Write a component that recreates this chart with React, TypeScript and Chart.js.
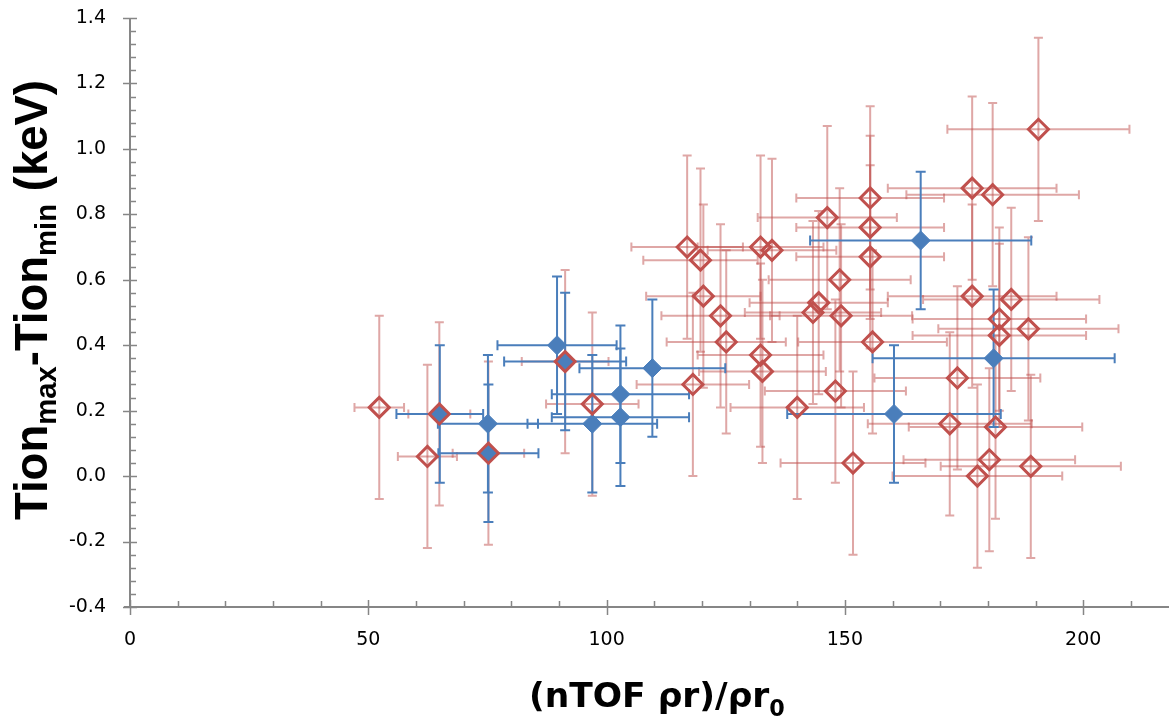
import { useEffect, useRef } from "react";
import { Chart, registerables } from "chart.js";

Chart.register(...registerables);

// Red open diamonds (series 2)
const redX = [52.3, 62.4, 64.9, 75.2, 91.3, 97.0, 116.9, 118.1, 119.7, 120.3, 123.9, 125.1, 132.3, 134.7, 132.3, 132.7, 140.0, 143.3, 144.5, 146.3, 148.0, 148.9, 149.2, 151.7, 155.3, 155.3, 155.3, 155.8, 172.0, 173.6, 176.7, 176.7, 177.8, 180.3, 181.0, 181.6, 182.4, 182.4, 184.9, 188.5, 189.0, 190.6];
const redY = [0.21, 0.06, 0.19, 0.07, 0.35, 0.22, 0.70, 0.28, 0.66, 0.55, 0.49, 0.41, 0.70, 0.69, 0.37, 0.32, 0.21, 0.50, 0.53, 0.79, 0.26, 0.60, 0.49, 0.04, 0.85, 0.76, 0.67, 0.41, 0.16, 0.30, 0.88, 0.55, 0.00, 0.05, 0.86, 0.15, 0.48, 0.43, 0.54, 0.45, 0.03, 1.06];
const redXErr = [5.2, 6.2, 6.5, 7.5, 9.1, 9.7, 11.7, 11.8, 12.0, 12.0, 12.4, 12.5, 13.2, 13.5, 13.2, 13.3, 14.0, 14.3, 14.5, 14.6, 14.8, 14.9, 14.9, 15.2, 15.5, 15.5, 15.5, 15.6, 17.2, 17.4, 17.7, 17.7, 17.8, 18.0, 18.1, 18.2, 18.2, 18.2, 18.5, 18.9, 18.9, 19.1];
const redYErr = [0.28, 0.28, 0.28, 0.28, 0.28, 0.28, 0.28, 0.28, 0.28, 0.28, 0.28, 0.28, 0.28, 0.28, 0.28, 0.28, 0.28, 0.28, 0.28, 0.28, 0.28, 0.28, 0.28, 0.28, 0.28, 0.28, 0.28, 0.28, 0.28, 0.28, 0.28, 0.28, 0.28, 0.28, 0.28, 0.28, 0.28, 0.28, 0.28, 0.28, 0.28, 0.28];

// Blue filled diamonds (series 1)
const blueX = [65.0, 75.1, 75.2, 89.6, 91.3, 97.0, 102.9, 102.9, 109.6, 160.3, 165.9, 181.2];
const blueY = [0.19, 0.16, 0.07, 0.40, 0.35, 0.16, 0.25, 0.18, 0.33, 0.19, 0.72, 0.36];
const blueXErr = [9.1, 10.5, 10.5, 12.5, 12.8, 13.6, 14.4, 14.4, 15.3, 22.4, 23.2, 25.4];
const blueYErr = [0.21, 0.21, 0.21, 0.21, 0.21, 0.21, 0.21, 0.21, 0.21, 0.21, 0.21, 0.21];

const xMin = 0;
const xMax = 218;
const xMajorStep = 50;
const xMinorStep = 10;
const yMin = -0.4;
const yMax = 1.4;
const yMajorStep = 0.2;
const yMinorStep = 0.04;

const AXIS_COLOR = "#868686";
const RED = "#c0504d";
const RED_BAR = "rgba(192,80,77,0.5)";
const BLUE = "#4a7ebb";

export default function App() {
  const ref = useRef<HTMLCanvasElement>(null);

  useEffect(() => {
    if (!ref.current) return;

    const axesPlugin = {
      id: "customAxes",
      beforeDatasetsDraw(chart: any) {
        const { ctx } = chart;
        const xs = chart.scales.x;
        const ys = chart.scales.y;
        const x0 = xs.getPixelForValue(xMin);
        const x1 = xs.getPixelForValue(xMax);
        const y0 = ys.getPixelForValue(yMin);
        const y1 = ys.getPixelForValue(yMax);
        ctx.save();
        ctx.strokeStyle = AXIS_COLOR;
        ctx.lineWidth = 2;
        ctx.beginPath();
        ctx.moveTo(x0, y1);
        ctx.lineTo(x0, y0);
        ctx.moveTo(x0 - 6, y0);
        ctx.lineTo(x1, y0);
        ctx.stroke();
        ctx.lineWidth = 1.5;
        ctx.beginPath();
        const nyMinor = Math.round((yMax - yMin) / yMinorStep);
        for (let i = 0; i <= nyMinor; i++) {
          const py = Math.round(ys.getPixelForValue(yMin + i * yMinorStep)) + 0.5;
          ctx.moveTo(x0, py);
          ctx.lineTo(x0 + 6, py);
        }
        const nyMajor = Math.round((yMax - yMin) / yMajorStep);
        for (let i = 0; i <= nyMajor; i++) {
          const py = Math.round(ys.getPixelForValue(yMin + i * yMajorStep)) + 0.5;
          ctx.moveTo(x0 - 7, py);
          ctx.lineTo(x0 + 7, py);
        }
        for (let v = xMin; v <= xMax; v += xMinorStep) {
          const px = Math.round(xs.getPixelForValue(v)) + 0.5;
          ctx.moveTo(px, y0);
          ctx.lineTo(px, y0 - 6);
        }
        for (let v = xMin; v <= xMax; v += xMajorStep) {
          const px = Math.round(xs.getPixelForValue(v)) + 0.5;
          ctx.moveTo(px, y0 - 7);
          ctx.lineTo(px, y0 + 8);
        }
        ctx.stroke();
        ctx.restore();
      },
    };

    const drawBars = (
      chart: any,
      xsArr: number[],
      ysArr: number[],
      xe: number[],
      ye: number[],
      color: string,
      cap: number
    ) => {
      const { ctx } = chart;
      const xs = chart.scales.x;
      const ys = chart.scales.y;
      ctx.save();
      ctx.strokeStyle = color;
      ctx.lineWidth = 2;
      for (let i = 0; i < xsArr.length; i++) {
        const px = xs.getPixelForValue(xsArr[i]);
        const py = ys.getPixelForValue(ysArr[i]);
        const pxL = xs.getPixelForValue(xsArr[i] - xe[i]);
        const pxR = xs.getPixelForValue(xsArr[i] + xe[i]);
        const pyT = ys.getPixelForValue(ysArr[i] + ye[i]);
        const pyB = ys.getPixelForValue(ysArr[i] - ye[i]);
        ctx.beginPath();
        ctx.moveTo(pxL, py);
        ctx.lineTo(pxR, py);
        ctx.moveTo(pxL, py - cap);
        ctx.lineTo(pxL, py + cap);
        ctx.moveTo(pxR, py - cap);
        ctx.lineTo(pxR, py + cap);
        ctx.stroke();
        ctx.beginPath();
        ctx.moveTo(px, pyT);
        ctx.lineTo(px, pyB);
        ctx.moveTo(px - cap, pyT);
        ctx.lineTo(px + cap, pyT);
        ctx.moveTo(px - cap, pyB);
        ctx.lineTo(px + cap, pyB);
        ctx.stroke();
      }
      ctx.restore();
    };

    const errorBarsPlugin = {
      id: "errorBars",
      beforeDatasetsDraw(chart: any) {
        drawBars(chart, redX, redY, redXErr, redYErr, RED_BAR, 4.5);
        drawBars(chart, blueX, blueY, blueXErr, blueYErr, BLUE, 5);
      },
    };

    const drawSegments = (
      ctx: CanvasRenderingContext2D,
      segs: { t: string; sub: boolean }[],
      family: string,
      mainSize: number,
      subSize: number,
      subDrop: number,
      targetLen: number
    ) => {
      let total = 0;
      for (const s of segs) {
        ctx.font = `bold ${s.sub ? subSize : mainSize}px ${family}`;
        total += ctx.measureText(s.t).width;
      }
      const k = targetLen / total;
      let x = 0;
      ctx.textBaseline = "alphabetic";
      ctx.textAlign = "left";
      for (const s of segs) {
        ctx.font = `bold ${(s.sub ? subSize : mainSize) * k}px ${family}`;
        ctx.fillText(s.t, x, s.sub ? subDrop * k : 0);
        x += ctx.measureText(s.t).width;
      }
    };

    const titlesPlugin = {
      id: "titles",
      afterDraw(chart: any) {
        const { ctx } = chart;
        ctx.save();
        ctx.fillStyle = "#000";
        ctx.save();
        ctx.translate(47, 520);
        ctx.rotate(-Math.PI / 2);
        drawSegments(
          ctx,
          [
            { t: "Tion", sub: false },
            { t: "max", sub: true },
            { t: "-Tion", sub: false },
            { t: "min", sub: true },
            { t: " (keV)", sub: false },
          ],
          "'Liberation Sans', Arial, sans-serif",
          42,
          27,
          8,
          440
        );
        ctx.restore();
        ctx.save();
        ctx.translate(529, 707);
        drawSegments(
          ctx,
          [
            { t: "(nTOF \u03c1r)/\u03c1r", sub: false },
            { t: "0", sub: true },
          ],
          "'DejaVu Sans', sans-serif",
          34,
          22,
          9,
          256
        );
        ctx.restore();
        ctx.restore();
      },
    };

    const tickFont = { family: "'DejaVu Sans', sans-serif", size: 19 };

    const chart = new Chart(ref.current, {
      type: "scatter",
      data: {
        datasets: [
          {
            label: "red",
            data: redX.map((x, i) => ({ x, y: redY[i] })),
            pointStyle: "rectRot",
            pointRadius: 10,
            pointBorderWidth: 3,
            pointBorderColor: RED,
            pointBackgroundColor: "rgba(0,0,0,0)",
            clip: false,
          },
          {
            label: "blue",
            data: blueX.map((x, i) => ({ x, y: blueY[i] })),
            pointStyle: "rectRot",
            pointRadius: 9.5,
            pointBorderWidth: 1,
            pointBorderColor: BLUE,
            pointBackgroundColor: BLUE,
            clip: false,
          },
        ],
      },
      options: {
        responsive: false,
        animation: false,
        devicePixelRatio: 1,
        layout: { autoPadding: false, padding: { top: 18, left: 0, right: 0, bottom: 0 } },
        plugins: {
          legend: { display: false },
          tooltip: { enabled: false },
        },
        scales: {
          x: {
            type: "linear",
            min: xMin,
            max: xMax,
            grid: { display: false, drawTicks: false },
            border: { display: false },
            ticks: {
              stepSize: xMajorStep,
              includeBounds: false,
              maxRotation: 0,
              color: "#000",
              font: tickFont,
              padding: 22,
            },
            afterFit(scale: any) {
              scale.height = 112;
              scale.paddingLeft = 0;
              scale.paddingRight = 0;
              scale.paddingTop = 0;
              scale.paddingBottom = 0;
            },
          },
          y: {
            type: "linear",
            min: yMin,
            max: yMax,
            grid: { display: false, drawTicks: false },
            border: { display: false },
            ticks: {
              stepSize: yMajorStep,
              color: "#000",
              font: tickFont,
              padding: 24,
              callback: (v: any) => {
                const n = Number(v);
                return (Math.abs(n) < 1e-9 ? 0 : n).toFixed(1);
              },
            },
            afterFit(scale: any) {
              scale.width = 130;
              scale.paddingLeft = 0;
              scale.paddingRight = 0;
              scale.paddingTop = 0;
              scale.paddingBottom = 0;
            },
          },
        },
      } as any,
      plugins: [axesPlugin, errorBarsPlugin, titlesPlugin],
    });

    return () => chart.destroy();
  }, []);

  return (
    <div style={{ position: "absolute", left: 0, top: 0, width: 1169, height: 719, background: "#fff" }}>
      <canvas ref={ref} width={1169} height={719} style={{ display: "block" }} />
    </div>
  );
}
